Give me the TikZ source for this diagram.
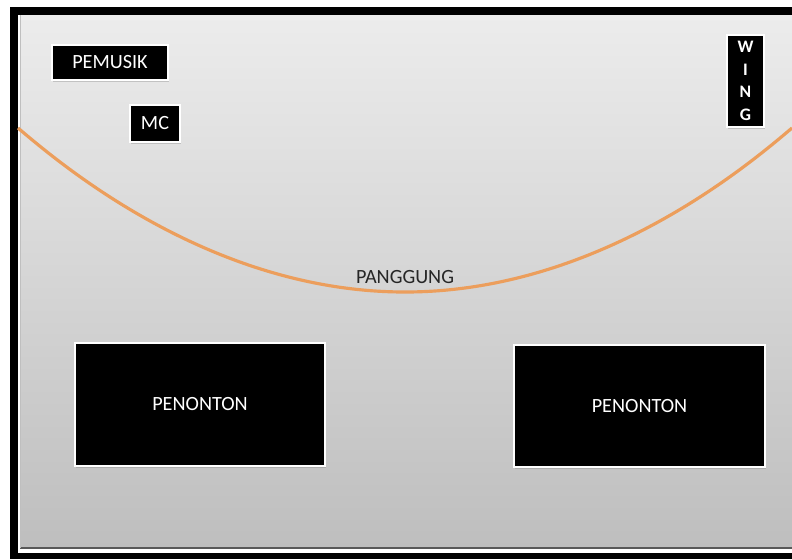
\documentclass[tikz,border=0pt]{standalone}
\usepackage{fontspec}
\setmainfont{Carlito}
\usetikzlibrary{shadows}
\definecolor{panggungline}{RGB}{236,158,92}
\definecolor{bgtop}{RGB}{236,236,236}
\definecolor{bgbottom}{RGB}{190,190,190}
\tikzset{
         blok/.style=
          {
           fill=black,draw=white,line width=1.1pt,
           text=white,inner sep=0pt,
           font=\fontsize{11.5}{13.5}\selectfont,
           drop shadow={shadow xshift=0.4pt,shadow yshift=-1pt,opacity=0.35}
          }
        }

\begin{document}
\begin{tikzpicture}[x=0.02cm,y=-0.02cm]
\useasboundingbox (0,0) rectangle (792,559);
\fill[white](0,0) rectangle (792,559);
\fill[black](10,7) rectangle (792,559); % frame
\fill[white](18,15) rectangle (792,553);
\shade[top color=bgtop,bottom color=bgbottom](20,15) rectangle (792,548); % floor
\draw[black!65,line width=0.8pt](20,548) to (792,548);
\draw[black!25,line width=0.6pt](20.5,15) to (20.5,548);

% stage edge
\draw[panggungline,line width=1.8pt](18,128) parabola bend (405,292) (792,128);
\node[text=black!85,font=\fontsize{11.5}{13.5}\selectfont] (panggung) at (405,277) {PANGGUNG};

% boxes
\node[blok,minimum width=2.32cm,minimum height=0.70cm] (pemusik) at (110,62.5) {PEMUSIK};
\node[blok,minimum width=1.0cm,minimum height=0.74cm] (mc) at (155,123.5) {MC};
\node[blok,minimum width=0.74cm,minimum height=1.84cm,align=center,
      font=\bfseries\fontsize{10}{12.8}\selectfont] (wing) at (745.5,81) {W\\I\\N\\G};
\node[blok,minimum width=5.0cm,minimum height=2.46cm] (penonton1) at (200,404.5) {PENONTON}; % left audience
\node[blok,minimum width=5.02cm,minimum height=2.44cm] (penonton2) at (639.5,406) {PENONTON}; % right audience

\end{tikzpicture}
\end{document}
